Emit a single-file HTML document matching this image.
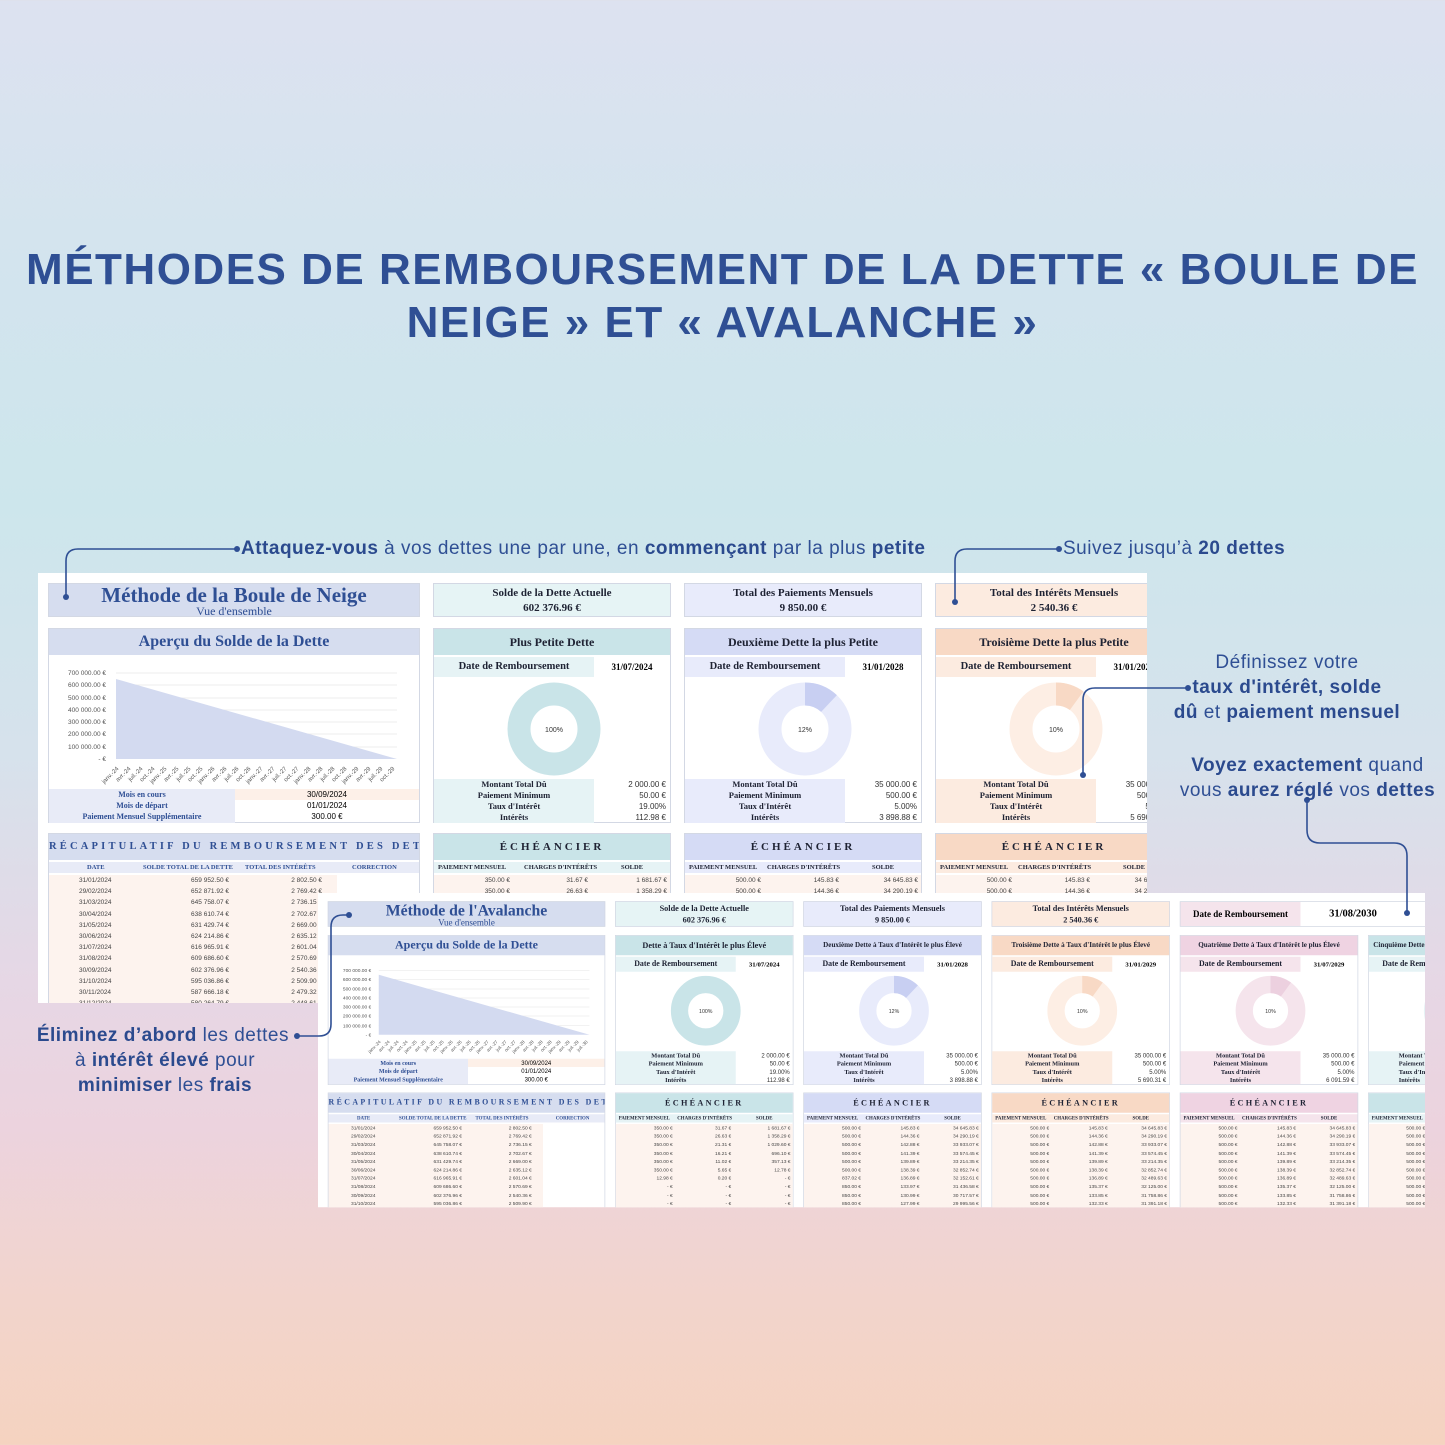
<!DOCTYPE html>
<html><head><meta charset="utf-8">
<style>
*{margin:0;padding:0;box-sizing:border-box}
body{width:1445px;height:1445px;position:relative;overflow:hidden;font-family:"Liberation Sans",sans-serif;
background:linear-gradient(180deg,#dde2f0 0%,#d3e4ee 18%,#cde6ec 35%,#d6e2ec 52%,#e6d7e5 68%,#ecd3de 78%,#f2d4cc 90%,#f5d3c0 100%)}
.abs{position:absolute}
.title{position:absolute;left:0;width:1445px;text-align:center;color:#2f4f94;font-weight:bold;font-size:44px;letter-spacing:1.5px;white-space:nowrap}
.ann{position:absolute;color:#2f4f94;font-size:19px;white-space:nowrap;letter-spacing:0.5px}
.ann b{color:#2b4a8e}
.sheet{position:absolute;background:#fff;overflow:hidden;font-family:"Liberation Serif",serif;transform-origin:0 0}
.bx{position:absolute;border:1px solid #d3d8e4}
.hd{position:absolute;left:0;top:0;right:0;height:26px;text-align:center;font-weight:bold;font-size:12px;line-height:26px;color:#1e2233;white-space:nowrap;overflow:hidden}
.st{text-align:center;font-weight:bold;font-size:11px;color:#1e2233;line-height:15px;padding-top:2px}
.dr{position:absolute;top:28px;left:0;width:160px;height:20px;font-size:10.5px;font-weight:bold;text-align:center;line-height:20px;color:#1e2233}
.dv{position:absolute;top:28px;left:160px;right:0;height:20px;font-size:9px;font-weight:bold;text-align:center;line-height:20px}
.dl{position:absolute;top:150px;left:0;width:160px;height:44px;font-size:8.5px;font-weight:bold;text-align:center;line-height:11px;color:#1e2233}
.dn{position:absolute;top:150px;left:160px;right:4px;height:44px;font-size:8px;text-align:right;line-height:11px;font-family:"Liberation Sans",sans-serif;color:#333}
.eh{position:absolute;left:0;right:0;top:0;height:26px;text-align:center;font-weight:bold;font-size:11px;letter-spacing:3px;line-height:26px;color:#1e2233}
.ch{position:absolute;left:0;right:0;top:28px;height:11px;font-size:6.5px;font-weight:bold;line-height:11px;color:#1e2233}
.ch span,.rw span{position:absolute}
.rows{position:absolute;left:0;right:0;top:41px;bottom:0;background:#fdf3ee}
.rw{position:relative;height:11.2px;font-size:6.5px;line-height:11.2px;font-family:"Liberation Sans",sans-serif;color:#444}
.rc .rw span:nth-child(2){right:108px}
.rc .rw span:nth-child(3){right:15px}
.rc .rw span:nth-child(1){left:30px}
.rh{background:#d6ddef;color:#2f4f94;letter-spacing:3.2px;font-size:10.5px;white-space:nowrap;overflow:hidden;text-align:left;padding-left:0}
</style></head><body>

<div class="title" style="top:245px">MÉTHODES DE REMBOURSEMENT DE LA DETTE « BOULE DE</div>
<div class="title" style="top:298px">NEIGE » ET « AVALANCHE »</div>

<!-- PANEL 1 -->
<div class="sheet" style="left:38px;top:573px;width:1109px;height:430px">
  <div class="bx" style="left:10px;top:10px;width:372px;height:34px;background:#d6ddef">
    <div style="position:absolute;left:0;right:0;top:-1px;text-align:center;font-size:21px;font-weight:bold;color:#2f4f94">Méthode de la Boule de Neige</div>
    <div style="position:absolute;left:0;right:0;top:20px;text-align:center;font-size:12px;color:#2f4f94">Vue d'ensemble</div>
  </div>
  <div class="bx st" style="left:395px;top:10px;width:238px;height:34px;background:#e6f4f5">Solde de la Dette Actuelle<br>602 376.96 €</div>
  <div class="bx st" style="left:646px;top:10px;width:238px;height:34px;background:#e8ebfb">Total des Paiements Mensuels<br>9 850.00 €</div>
  <div class="bx st" style="left:897px;top:10px;width:238px;height:34px;background:#fcebe0">Total des Intérêts Mensuels<br>2 540.36 €</div>

  <div class="bx" style="left:10px;top:55px;width:372px;height:195px">
    <div class="hd" style="background:#d6ddef;color:#2f4f94;font-size:16px">Aperçu du Solde de la Dette</div>
    <svg class="abs" style="left:0;top:28px" width="372" height="132" font-family="Liberation Sans" font-size="6.5" fill="#555">
      <g stroke="#e6e6e6" stroke-width="0.8"><line x1="67" y1="16" x2="348" y2="16"/><line x1="67" y1="28" x2="348" y2="28"/><line x1="67" y1="41" x2="348" y2="41"/><line x1="67" y1="53" x2="348" y2="53"/><line x1="67" y1="65" x2="348" y2="65"/><line x1="67" y1="77" x2="348" y2="77"/><line x1="67" y1="90" x2="348" y2="90"/></g>
      <polygon points="67,22 348,102 67,102" fill="#d3daf0"/>
      <g text-anchor="end"><text x="57" y="18">700 000.00 €</text><text x="57" y="30">600 000.00 €</text><text x="57" y="43">500 000.00 €</text><text x="57" y="55">400 000.00 €</text><text x="57" y="67">300 000.00 €</text><text x="57" y="79">200 000.00 €</text><text x="57" y="92">100 000.00 €</text><text x="57" y="104">-  €</text></g>
      <g font-size="6"><text transform="translate(70,112) rotate(-45)" text-anchor="end">janv.-24</text><text transform="translate(82,112) rotate(-45)" text-anchor="end">avr.-24</text><text transform="translate(94,112) rotate(-45)" text-anchor="end">juil.-24</text><text transform="translate(106,112) rotate(-45)" text-anchor="end">oct.-24</text><text transform="translate(118,112) rotate(-45)" text-anchor="end">janv.-25</text><text transform="translate(130,112) rotate(-45)" text-anchor="end">avr.-25</text><text transform="translate(142,112) rotate(-45)" text-anchor="end">juil.-25</text><text transform="translate(154,112) rotate(-45)" text-anchor="end">oct.-25</text><text transform="translate(166,112) rotate(-45)" text-anchor="end">janv.-26</text><text transform="translate(178,112) rotate(-45)" text-anchor="end">avr.-26</text><text transform="translate(190,112) rotate(-45)" text-anchor="end">juil.-26</text><text transform="translate(202,112) rotate(-45)" text-anchor="end">oct.-26</text><text transform="translate(214,112) rotate(-45)" text-anchor="end">janv.-27</text><text transform="translate(226,112) rotate(-45)" text-anchor="end">avr.-27</text><text transform="translate(238,112) rotate(-45)" text-anchor="end">juil.-27</text><text transform="translate(250,112) rotate(-45)" text-anchor="end">oct.-27</text><text transform="translate(262,112) rotate(-45)" text-anchor="end">janv.-28</text><text transform="translate(274,112) rotate(-45)" text-anchor="end">avr.-28</text><text transform="translate(286,112) rotate(-45)" text-anchor="end">juil.-28</text><text transform="translate(298,112) rotate(-45)" text-anchor="end">oct.-28</text><text transform="translate(310,112) rotate(-45)" text-anchor="end">janv.-29</text><text transform="translate(322,112) rotate(-45)" text-anchor="end">avr.-29</text><text transform="translate(334,112) rotate(-45)" text-anchor="end">juil.-29</text><text transform="translate(346,112) rotate(-45)" text-anchor="end">oct.-29</text></g>
    </svg>
    <div class="abs" style="left:0;top:160px;width:186px;height:34px;background:#e8ebf7;font-size:8px;font-weight:bold;color:#2f4f94;text-align:center;line-height:11px">Mois en cours<br>Mois de départ<br>Paiement Mensuel Supplémentaire</div>
    <div class="abs" style="left:186px;top:160px;right:0;height:11px;background:#fdf0e8"></div>
    <div class="abs" style="left:186px;top:160px;right:0;height:34px;font-size:8px;text-align:center;line-height:11px;font-family:'Liberation Sans',sans-serif">30/09/2024<br>01/01/2024<br>300.00 €</div>
  </div>

  <div class="bx" style="left:395px;top:55px;width:238px;height:195px">
    <div class="hd" style="background:#c9e4e8">Plus Petite Dette</div>
    <div class="dr" style="background:#e6f3f5">Date de Remboursement</div><div class="dv">31/07/2024</div>
    <svg class="abs" style="left:0;top:0" width="238" height="150"><circle cx="120" cy="100" r="35" fill="none" stroke="#c9e4e8" stroke-width="23"/><text x="120" y="103" font-size="7" text-anchor="middle" font-family="Liberation Sans" fill="#333">100%</text></svg>
    <div class="dl" style="background:#e6f3f5">Montant Total Dû<br>Paiement Minimum<br>Taux d'Intérêt<br>Intérêts</div><div class="dn">2 000.00 €<br>50.00 €<br>19.00%<br>112.98 €</div>
  </div>
  <div class="bx" style="left:646px;top:55px;width:238px;height:195px">
    <div class="hd" style="background:#d5dbf5">Deuxième Dette la plus Petite</div>
    <div class="dr" style="background:#e8ebfb">Date de Remboursement</div><div class="dv">31/01/2028</div>
    <svg class="abs" style="left:0;top:0" width="238" height="150"><circle cx="120" cy="100" r="35" fill="none" stroke="#e8ebfb" stroke-width="23"/><circle cx="120" cy="100" r="35" fill="none" stroke="#c8cff2" stroke-width="23" stroke-dasharray="26.4 300" transform="rotate(-90 120 100)"/><text x="120" y="103" font-size="7" text-anchor="middle" font-family="Liberation Sans" fill="#333">12%</text></svg>
    <div class="dl" style="background:#e8ebfb">Montant Total Dû<br>Paiement Minimum<br>Taux d'Intérêt<br>Intérêts</div><div class="dn">35 000.00 €<br>500.00 €<br>5.00%<br>3 898.88 €</div>
  </div>
  <div class="bx" style="left:897px;top:55px;width:238px;height:195px">
    <div class="hd" style="background:#f8d9c5">Troisième Dette la plus Petite</div>
    <div class="dr" style="background:#fcebe0">Date de Remboursement</div><div class="dv">31/01/2029</div>
    <svg class="abs" style="left:0;top:0" width="238" height="150"><circle cx="120" cy="100" r="35" fill="none" stroke="#fdeee4" stroke-width="23"/><circle cx="120" cy="100" r="35" fill="none" stroke="#f8d9c5" stroke-width="23" stroke-dasharray="22 300" transform="rotate(-90 120 100)"/><text x="120" y="103" font-size="7" text-anchor="middle" font-family="Liberation Sans" fill="#333">10%</text></svg>
    <div class="dl" style="background:#fcebe0">Montant Total Dû<br>Paiement Minimum<br>Taux d'Intérêt<br>Intérêts</div><div class="dn">35 000.00 €<br>500.00 €<br>5.00%<br>5 690.31 €</div>
  </div>

  <div class="bx rc" style="left:10px;top:260px;width:372px;height:180px">
    <div class="eh rh">RÉCAPITULATIF DU REMBOURSEMENT DES DETTES</div>
    <div class="ch" style="background:#e8ebf7;color:#2f4f94"><span style="left:38px">DATE</span><span style="left:94px">SOLDE TOTAL DE LA DETTE</span><span style="left:196px">TOTAL DES INTÉRÊTS</span><span style="left:303px">CORRECTION</span></div>
    <div class="rows" style="right:82px">
      <div class="rw"><span>31/01/2024</span><span>659 952.50 €</span><span>2 802.50 €</span></div>
      <div class="rw"><span>29/02/2024</span><span>652 871.92 €</span><span>2 769.42 €</span></div>
      <div class="rw"><span>31/03/2024</span><span>645 758.07 €</span><span>2 736.15 €</span></div>
      <div class="rw"><span>30/04/2024</span><span>638 610.74 €</span><span>2 702.67 €</span></div>
      <div class="rw"><span>31/05/2024</span><span>631 429.74 €</span><span>2 669.00 €</span></div>
      <div class="rw"><span>30/06/2024</span><span>624 214.86 €</span><span>2 635.12 €</span></div>
      <div class="rw"><span>31/07/2024</span><span>616 965.91 €</span><span>2 601.04 €</span></div>
      <div class="rw"><span>31/08/2024</span><span>609 686.60 €</span><span>2 570.69 €</span></div>
      <div class="rw"><span>30/09/2024</span><span>602 376.96 €</span><span>2 540.36 €</span></div>
      <div class="rw"><span>31/10/2024</span><span>595 036.86 €</span><span>2 509.90 €</span></div>
      <div class="rw"><span>30/11/2024</span><span>587 666.18 €</span><span>2 479.32 €</span></div>
      <div class="rw"><span>31/12/2024</span><span>580 264.79 €</span><span>2 448.61 €</span></div>
    </div>
  </div>
  <div class="bx" style="left:395px;top:260px;width:238px;height:180px">
    <div class="eh" style="background:#c9e4e8">ÉCHÉANCIER</div>
    <div class="ch" style="background:#e6f3f5"><span style="left:4px">PAIEMENT MENSUEL</span><span style="left:90px">CHARGES D'INTÉRÊTS</span><span style="left:187px">SOLDE</span></div>
    <div class="rows"><div class="rw"><span style="right:160px">350.00 €</span><span style="right:82px">31.67 €</span><span style="right:3px">1 681.67 €</span></div><div class="rw"><span style="right:160px">350.00 €</span><span style="right:82px">26.63 €</span><span style="right:3px">1 358.29 €</span></div></div>
  </div>
  <div class="bx" style="left:646px;top:260px;width:238px;height:180px">
    <div class="eh" style="background:#d5dbf5">ÉCHÉANCIER</div>
    <div class="ch" style="background:#e8ebfb"><span style="left:4px">PAIEMENT MENSUEL</span><span style="left:82px">CHARGES D'INTÉRÊTS</span><span style="left:187px">SOLDE</span></div>
    <div class="rows"><div class="rw"><span style="right:160px">500.00 €</span><span style="right:82px">145.83 €</span><span style="right:3px">34 645.83 €</span></div><div class="rw"><span style="right:160px">500.00 €</span><span style="right:82px">144.36 €</span><span style="right:3px">34 290.19 €</span></div></div>
  </div>
  <div class="bx" style="left:897px;top:260px;width:238px;height:180px">
    <div class="eh" style="background:#f8d9c5">ÉCHÉANCIER</div>
    <div class="ch" style="background:#fcebe0"><span style="left:4px">PAIEMENT MENSUEL</span><span style="left:82px">CHARGES D'INTÉRÊTS</span><span style="left:187px">SOLDE</span></div>
    <div class="rows"><div class="rw"><span style="right:160px">500.00 €</span><span style="right:82px">145.83 €</span><span style="right:3px">34 645.83 €</span></div><div class="rw"><span style="right:160px">500.00 €</span><span style="right:82px">144.36 €</span><span style="right:3px">34 290.19 €</span></div></div>
  </div>
</div>

<!-- PANEL 2 (scaled 0.75) -->
<div class="sheet" style="left:318px;top:893px;width:1476px;height:419px;transform:scale(0.75)">
  <div class="bx" style="left:13px;top:11px;width:370px;height:34px;background:#d6ddef">
    <div style="position:absolute;left:0;right:0;top:-1px;text-align:center;font-size:21px;font-weight:bold;color:#2f4f94">Méthode de l'Avalanche</div>
    <div style="position:absolute;left:0;right:0;top:20px;text-align:center;font-size:12px;color:#2f4f94">Vue d'ensemble</div>
  </div>
  <div class="bx st" style="left:396px;top:11px;width:238px;height:34px;background:#e6f4f5">Solde de la Dette Actuelle<br>602 376.96 €</div>
  <div class="bx st" style="left:647px;top:11px;width:238px;height:34px;background:#e8ebfb">Total des Paiements Mensuels<br>9 850.00 €</div>
  <div class="bx st" style="left:898px;top:11px;width:238px;height:34px;background:#fcebe0">Total des Intérêts Mensuels<br>2 540.36 €</div>
  <div class="bx" style="left:1149px;top:11px;width:340px;height:34px;background:#fff">
    <div class="abs" style="left:0;top:0;width:160px;height:32px;background:#f5e4ec;font-weight:bold;font-size:12px;line-height:32px;text-align:center">Date de Remboursement</div>
    <div class="abs" style="left:160px;top:0;width:140px;height:32px;font-weight:bold;font-size:14px;line-height:32px;text-align:center">31/08/2030</div>
  </div>

  <div class="bx" style="left:13px;top:56px;width:370px;height:200px">
    <div class="hd" style="background:#d6ddef;color:#2f4f94;font-size:16px">Aperçu du Solde de la Dette</div>
    <svg class="abs" style="left:0;top:30px" width="370" height="132" font-family="Liberation Sans" font-size="6.5" fill="#555">
      <g stroke="#e6e6e6" stroke-width="0.8"><line x1="67" y1="16" x2="348" y2="16"/><line x1="67" y1="28" x2="348" y2="28"/><line x1="67" y1="41" x2="348" y2="41"/><line x1="67" y1="53" x2="348" y2="53"/><line x1="67" y1="65" x2="348" y2="65"/><line x1="67" y1="77" x2="348" y2="77"/><line x1="67" y1="90" x2="348" y2="90"/></g>
      <polygon points="67,22 348,102 67,102" fill="#d3daf0"/>
      <g text-anchor="end"><text x="57" y="18">700 000.00 €</text><text x="57" y="30">600 000.00 €</text><text x="57" y="43">500 000.00 €</text><text x="57" y="55">400 000.00 €</text><text x="57" y="67">300 000.00 €</text><text x="57" y="79">200 000.00 €</text><text x="57" y="92">100 000.00 €</text><text x="57" y="104">-  €</text></g>
      <g font-size="6"><text transform="translate(70,112) rotate(-45)" text-anchor="end">janv.-24</text><text transform="translate(82,112) rotate(-45)" text-anchor="end">avr.-24</text><text transform="translate(94,112) rotate(-45)" text-anchor="end">juil.-24</text><text transform="translate(106,112) rotate(-45)" text-anchor="end">oct.-24</text><text transform="translate(118,112) rotate(-45)" text-anchor="end">janv.-25</text><text transform="translate(130,112) rotate(-45)" text-anchor="end">avr.-25</text><text transform="translate(142,112) rotate(-45)" text-anchor="end">juil.-25</text><text transform="translate(154,112) rotate(-45)" text-anchor="end">oct.-25</text><text transform="translate(166,112) rotate(-45)" text-anchor="end">janv.-26</text><text transform="translate(178,112) rotate(-45)" text-anchor="end">avr.-26</text><text transform="translate(190,112) rotate(-45)" text-anchor="end">juil.-26</text><text transform="translate(202,112) rotate(-45)" text-anchor="end">oct.-26</text><text transform="translate(214,112) rotate(-45)" text-anchor="end">janv.-27</text><text transform="translate(226,112) rotate(-45)" text-anchor="end">avr.-27</text><text transform="translate(238,112) rotate(-45)" text-anchor="end">juil.-27</text><text transform="translate(250,112) rotate(-45)" text-anchor="end">oct.-27</text><text transform="translate(262,112) rotate(-45)" text-anchor="end">janv.-28</text><text transform="translate(274,112) rotate(-45)" text-anchor="end">avr.-28</text><text transform="translate(286,112) rotate(-45)" text-anchor="end">juil.-28</text><text transform="translate(298,112) rotate(-45)" text-anchor="end">oct.-28</text><text transform="translate(310,112) rotate(-45)" text-anchor="end">janv.-29</text><text transform="translate(322,112) rotate(-45)" text-anchor="end">avr.-29</text><text transform="translate(334,112) rotate(-45)" text-anchor="end">juil.-29</text><text transform="translate(346,112) rotate(-45)" text-anchor="end">juil.-30</text></g>
    </svg>
    <div class="abs" style="left:0;top:164px;width:186px;height:34px;background:#e8ebf7;font-size:8px;font-weight:bold;color:#2f4f94;text-align:center;line-height:11px">Mois en cours<br>Mois de départ<br>Paiement Mensuel Supplémentaire</div>
    <div class="abs" style="left:186px;top:164px;right:0;height:11px;background:#fdf0e8"></div>
    <div class="abs" style="left:186px;top:164px;right:0;height:34px;font-size:8px;text-align:center;line-height:11px;font-family:'Liberation Sans',sans-serif">30/09/2024<br>01/01/2024<br>300.00 €</div>
  </div>

  <div class="bx" style="left:396px;top:56px;width:238px;height:200px">
    <div class="hd" style="background:#c9e4e8;font-size:11px">Dette à Taux d'Intérêt le plus Élevé</div>
    <div class="dr" style="background:#e6f3f5">Date de Remboursement</div><div class="dv">31/07/2024</div>
    <svg class="abs" style="left:0;top:0" width="238" height="150"><circle cx="120" cy="100" r="35" fill="none" stroke="#c9e4e8" stroke-width="23"/><text x="120" y="103" font-size="7" text-anchor="middle" font-family="Liberation Sans" fill="#333">100%</text></svg>
    <div class="dl" style="top:154px;background:#e6f3f5">Montant Total Dû<br>Paiement Minimum<br>Taux d'Intérêt<br>Intérêts</div><div class="dn" style="top:154px">2 000.00 €<br>50.00 €<br>19.00%<br>112.98 €</div>
  </div>
  <div class="bx" style="left:647px;top:56px;width:238px;height:200px">
    <div class="hd" style="background:#d5dbf5;font-size:9.5px">Deuxième Dette à Taux d'Intérêt le plus Élevé</div>
    <div class="dr" style="background:#e8ebfb">Date de Remboursement</div><div class="dv">31/01/2028</div>
    <svg class="abs" style="left:0;top:0" width="238" height="150"><circle cx="120" cy="100" r="35" fill="none" stroke="#e8ebfb" stroke-width="23"/><circle cx="120" cy="100" r="35" fill="none" stroke="#c8cff2" stroke-width="23" stroke-dasharray="26.4 300" transform="rotate(-90 120 100)"/><text x="120" y="103" font-size="7" text-anchor="middle" font-family="Liberation Sans" fill="#333">12%</text></svg>
    <div class="dl" style="top:154px;background:#e8ebfb">Montant Total Dû<br>Paiement Minimum<br>Taux d'Intérêt<br>Intérêts</div><div class="dn" style="top:154px">35 000.00 €<br>500.00 €<br>5.00%<br>3 898.88 €</div>
  </div>
  <div class="bx" style="left:898px;top:56px;width:238px;height:200px">
    <div class="hd" style="background:#f8d9c5;font-size:9.5px">Troisième Dette à Taux d'Intérêt le plus Élevé</div>
    <div class="dr" style="background:#fcebe0">Date de Remboursement</div><div class="dv">31/01/2029</div>
    <svg class="abs" style="left:0;top:0" width="238" height="150"><circle cx="120" cy="100" r="35" fill="none" stroke="#fdeee4" stroke-width="23"/><circle cx="120" cy="100" r="35" fill="none" stroke="#f8d9c5" stroke-width="23" stroke-dasharray="22 300" transform="rotate(-90 120 100)"/><text x="120" y="103" font-size="7" text-anchor="middle" font-family="Liberation Sans" fill="#333">10%</text></svg>
    <div class="dl" style="top:154px;background:#fcebe0">Montant Total Dû<br>Paiement Minimum<br>Taux d'Intérêt<br>Intérêts</div><div class="dn" style="top:154px">35 000.00 €<br>500.00 €<br>5.00%<br>5 690.31 €</div>
  </div>
  <div class="bx" style="left:1149px;top:56px;width:238px;height:200px">
    <div class="hd" style="background:#efd3e2;font-size:9.5px">Quatrième Dette à Taux d'Intérêt le plus Élevé</div>
    <div class="dr" style="background:#f5e4ec">Date de Remboursement</div><div class="dv">31/07/2029</div>
    <svg class="abs" style="left:0;top:0" width="238" height="150"><circle cx="120" cy="100" r="35" fill="none" stroke="#f5e4ec" stroke-width="23"/><circle cx="120" cy="100" r="35" fill="none" stroke="#ecd0df" stroke-width="23" stroke-dasharray="22 300" transform="rotate(-90 120 100)"/><text x="120" y="103" font-size="7" text-anchor="middle" font-family="Liberation Sans" fill="#333">10%</text></svg>
    <div class="dl" style="top:154px;background:#f5e4ec">Montant Total Dû<br>Paiement Minimum<br>Taux d'Intérêt<br>Intérêts</div><div class="dn" style="top:154px">35 000.00 €<br>500.00 €<br>5.00%<br>6 091.59 €</div>
  </div>
  <div class="bx" style="left:1400px;top:56px;width:238px;height:200px">
    <div class="hd" style="background:#c9e4e8;font-size:9.5px;text-align:left;padding-left:6px">Cinquième Dette à Taux d'Intérêt le plus Élevé</div>
    <div class="dr" style="background:#e6f3f5;text-align:left;padding-left:18px">Date de Remboursement</div>
    <svg class="abs" style="left:0;top:0" width="238" height="150"><circle cx="120" cy="100" r="35" fill="none" stroke="#e6f3f5" stroke-width="23"/></svg>
    <div class="dl" style="top:154px;background:#e6f3f5;text-align:left;padding-left:40px">Montant Total Dû<br>Paiement Minimum<br>Taux d'Intérêt<br>Intérêts</div>
  </div>

  <div class="bx rc" style="left:13px;top:266px;width:370px;height:160px">
    <div class="eh rh" style="text-align:center">RÉCAPITULATIF DU REMBOURSEMENT DES DETTES</div>
    <div class="ch" style="background:#e8ebf7;color:#2f4f94"><span style="left:38px">DATE</span><span style="left:94px">SOLDE TOTAL DE LA DETTE</span><span style="left:196px">TOTAL DES INTÉRÊTS</span><span style="left:303px">CORRECTION</span></div>
    <div class="rows" style="right:82px">
      <div class="rw"><span>31/01/2024</span><span>659 952.50 €</span><span>2 802.50 €</span></div>
      <div class="rw"><span>29/02/2024</span><span>652 871.92 €</span><span>2 769.42 €</span></div>
      <div class="rw"><span>31/03/2024</span><span>645 758.07 €</span><span>2 736.15 €</span></div>
      <div class="rw"><span>30/04/2024</span><span>638 610.74 €</span><span>2 702.67 €</span></div>
      <div class="rw"><span>31/05/2024</span><span>631 429.74 €</span><span>2 669.00 €</span></div>
      <div class="rw"><span>30/06/2024</span><span>624 214.86 €</span><span>2 635.12 €</span></div>
      <div class="rw"><span>31/07/2024</span><span>616 965.91 €</span><span>2 601.04 €</span></div>
      <div class="rw"><span>31/08/2024</span><span>609 686.60 €</span><span>2 570.69 €</span></div>
      <div class="rw"><span>30/09/2024</span><span>602 376.96 €</span><span>2 540.36 €</span></div>
      <div class="rw"><span>31/10/2024</span><span>595 036.86 €</span><span>2 509.90 €</span></div>
    </div>
  </div>
  <div class="bx" style="left:396px;top:266px;width:238px;height:160px">
    <div class="eh" style="background:#c9e4e8">ÉCHÉANCIER</div>
    <div class="ch" style="background:#e6f3f5"><span style="left:4px">PAIEMENT MENSUEL</span><span style="left:82px">CHARGES D'INTÉRÊTS</span><span style="left:187px">SOLDE</span></div>
    <div class="rows">
      <div class="rw"><span style="right:160px">350.00 €</span><span style="right:82px">31.67 €</span><span style="right:3px">1 681.67 €</span></div>
      <div class="rw"><span style="right:160px">350.00 €</span><span style="right:82px">26.63 €</span><span style="right:3px">1 358.29 €</span></div>
      <div class="rw"><span style="right:160px">350.00 €</span><span style="right:82px">21.31 €</span><span style="right:3px">1 029.60 €</span></div>
      <div class="rw"><span style="right:160px">350.00 €</span><span style="right:82px">16.21 €</span><span style="right:3px">696.10 €</span></div>
      <div class="rw"><span style="right:160px">350.00 €</span><span style="right:82px">11.02 €</span><span style="right:3px">357.13 €</span></div>
      <div class="rw"><span style="right:160px">350.00 €</span><span style="right:82px">5.65 €</span><span style="right:3px">12.78 €</span></div>
      <div class="rw"><span style="right:160px">12.98 €</span><span style="right:82px">0.20 €</span><span style="right:3px">-  €</span></div>
      <div class="rw"><span style="right:160px">-  €</span><span style="right:82px">-  €</span><span style="right:3px">-  €</span></div>
      <div class="rw"><span style="right:160px">-  €</span><span style="right:82px">-  €</span><span style="right:3px">-  €</span></div>
      <div class="rw"><span style="right:160px">-  €</span><span style="right:82px">-  €</span><span style="right:3px">-  €</span></div>
    </div>
  </div>
  <div class="bx" style="left:647px;top:266px;width:238px;height:160px">
    <div class="eh" style="background:#d5dbf5">ÉCHÉANCIER</div>
    <div class="ch" style="background:#e8ebfb"><span style="left:4px">PAIEMENT MENSUEL</span><span style="left:82px">CHARGES D'INTÉRÊTS</span><span style="left:187px">SOLDE</span></div>
    <div class="rows">
      <div class="rw"><span style="right:160px">500.00 €</span><span style="right:82px">145.83 €</span><span style="right:3px">34 645.83 €</span></div>
      <div class="rw"><span style="right:160px">500.00 €</span><span style="right:82px">144.36 €</span><span style="right:3px">34 290.19 €</span></div>
      <div class="rw"><span style="right:160px">500.00 €</span><span style="right:82px">142.88 €</span><span style="right:3px">33 933.07 €</span></div>
      <div class="rw"><span style="right:160px">500.00 €</span><span style="right:82px">141.39 €</span><span style="right:3px">33 574.45 €</span></div>
      <div class="rw"><span style="right:160px">500.00 €</span><span style="right:82px">139.89 €</span><span style="right:3px">33 214.35 €</span></div>
      <div class="rw"><span style="right:160px">500.00 €</span><span style="right:82px">138.39 €</span><span style="right:3px">32 852.74 €</span></div>
      <div class="rw"><span style="right:160px">837.02 €</span><span style="right:82px">136.89 €</span><span style="right:3px">32 152.61 €</span></div>
      <div class="rw"><span style="right:160px">850.00 €</span><span style="right:82px">133.97 €</span><span style="right:3px">31 436.58 €</span></div>
      <div class="rw"><span style="right:160px">850.00 €</span><span style="right:82px">130.99 €</span><span style="right:3px">30 717.57 €</span></div>
      <div class="rw"><span style="right:160px">850.00 €</span><span style="right:82px">127.99 €</span><span style="right:3px">29 995.56 €</span></div>
    </div>
  </div>
  <div class="bx" style="left:898px;top:266px;width:238px;height:160px">
    <div class="eh" style="background:#f8d9c5">ÉCHÉANCIER</div>
    <div class="ch" style="background:#fcebe0"><span style="left:4px">PAIEMENT MENSUEL</span><span style="left:82px">CHARGES D'INTÉRÊTS</span><span style="left:187px">SOLDE</span></div>
    <div class="rows">
      <div class="rw"><span style="right:160px">500.00 €</span><span style="right:82px">145.83 €</span><span style="right:3px">34 645.83 €</span></div>
      <div class="rw"><span style="right:160px">500.00 €</span><span style="right:82px">144.36 €</span><span style="right:3px">34 290.19 €</span></div>
      <div class="rw"><span style="right:160px">500.00 €</span><span style="right:82px">142.88 €</span><span style="right:3px">33 933.07 €</span></div>
      <div class="rw"><span style="right:160px">500.00 €</span><span style="right:82px">141.39 €</span><span style="right:3px">33 574.45 €</span></div>
      <div class="rw"><span style="right:160px">500.00 €</span><span style="right:82px">139.89 €</span><span style="right:3px">33 214.35 €</span></div>
      <div class="rw"><span style="right:160px">500.00 €</span><span style="right:82px">138.39 €</span><span style="right:3px">32 852.74 €</span></div>
      <div class="rw"><span style="right:160px">500.00 €</span><span style="right:82px">136.89 €</span><span style="right:3px">32 489.63 €</span></div>
      <div class="rw"><span style="right:160px">500.00 €</span><span style="right:82px">135.37 €</span><span style="right:3px">32 125.00 €</span></div>
      <div class="rw"><span style="right:160px">500.00 €</span><span style="right:82px">133.85 €</span><span style="right:3px">31 758.86 €</span></div>
      <div class="rw"><span style="right:160px">500.00 €</span><span style="right:82px">132.33 €</span><span style="right:3px">31 391.18 €</span></div>
    </div>
  </div>
  <div class="bx" style="left:1149px;top:266px;width:238px;height:160px">
    <div class="eh" style="background:#efd3e2">ÉCHÉANCIER</div>
    <div class="ch" style="background:#f5e4ec"><span style="left:4px">PAIEMENT MENSUEL</span><span style="left:82px">CHARGES D'INTÉRÊTS</span><span style="left:187px">SOLDE</span></div>
    <div class="rows">
      <div class="rw"><span style="right:160px">500.00 €</span><span style="right:82px">145.83 €</span><span style="right:3px">34 645.83 €</span></div>
      <div class="rw"><span style="right:160px">500.00 €</span><span style="right:82px">144.36 €</span><span style="right:3px">34 290.19 €</span></div>
      <div class="rw"><span style="right:160px">500.00 €</span><span style="right:82px">142.88 €</span><span style="right:3px">33 933.07 €</span></div>
      <div class="rw"><span style="right:160px">500.00 €</span><span style="right:82px">141.39 €</span><span style="right:3px">33 574.45 €</span></div>
      <div class="rw"><span style="right:160px">500.00 €</span><span style="right:82px">139.89 €</span><span style="right:3px">33 214.35 €</span></div>
      <div class="rw"><span style="right:160px">500.00 €</span><span style="right:82px">138.39 €</span><span style="right:3px">32 852.74 €</span></div>
      <div class="rw"><span style="right:160px">500.00 €</span><span style="right:82px">136.89 €</span><span style="right:3px">32 489.63 €</span></div>
      <div class="rw"><span style="right:160px">500.00 €</span><span style="right:82px">135.37 €</span><span style="right:3px">32 125.00 €</span></div>
      <div class="rw"><span style="right:160px">500.00 €</span><span style="right:82px">133.85 €</span><span style="right:3px">31 758.86 €</span></div>
      <div class="rw"><span style="right:160px">500.00 €</span><span style="right:82px">132.33 €</span><span style="right:3px">31 391.18 €</span></div>
    </div>
  </div>
  <div class="bx" style="left:1400px;top:266px;width:238px;height:160px">
    <div class="eh" style="background:#c9e4e8"></div>
    <div class="ch" style="background:#e6f3f5"><span style="left:4px">PAIEMENT MENSUEL</span></div>
    <div class="rows">
      <div class="rw"><span style="left:50px">500.00 €</span></div><div class="rw"><span style="left:50px">500.00 €</span></div><div class="rw"><span style="left:50px">500.00 €</span></div><div class="rw"><span style="left:50px">500.00 €</span></div><div class="rw"><span style="left:50px">500.00 €</span></div><div class="rw"><span style="left:50px">500.00 €</span></div><div class="rw"><span style="left:50px">500.00 €</span></div><div class="rw"><span style="left:50px">500.00 €</span></div><div class="rw"><span style="left:50px">500.00 €</span></div><div class="rw"><span style="left:50px">500.00 €</span></div>
    </div>
  </div>
</div>

<svg class="abs" style="left:0;top:0" width="1445" height="1445" fill="none" stroke="#2f4f94" stroke-width="1.6">
  <path d="M237,549 H78 Q66,549 66,561 V597"/>
  <path d="M1059,549 H967 Q955,549 955,561 V602"/>
  <path d="M1188,688 H1095 Q1083,688 1083,700 V775"/>
  <path d="M1307,800 V830 Q1307,843 1320,843 H1394 Q1407,843 1407,856 V913"/>
  <path d="M297,1036 H319 Q331,1036 331,1024 V927 Q331,915 343,915 H349"/>
  <g fill="#2f4f94" stroke="none">
    <circle cx="237" cy="549" r="3"/><circle cx="66" cy="597" r="3"/>
    <circle cx="1059" cy="549" r="3"/><circle cx="955" cy="602" r="3"/>
    <circle cx="1188" cy="688" r="3"/><circle cx="1083" cy="775" r="3"/>
    <circle cx="1307" cy="800" r="3"/><circle cx="1407" cy="913" r="3"/>
    <circle cx="297" cy="1036" r="3"/><circle cx="349" cy="915" r="3"/>
  </g>
</svg>

<div class="ann" style="left:241px;top:538px"><b>Attaquez-vous</b> à vos dettes une par une, en <b>commençant</b> par la plus <b>petite</b></div>
<div class="ann" style="left:1063px;top:538px">Suivez jusqu’à <b>20 dettes</b></div>
<div class="ann" style="left:1130px;width:314px;text-align:center;top:650px;line-height:25px">Définissez votre<br><b>taux d'intérêt, solde</b><br><b>dû</b> et <b>paiement mensuel</b></div>
<div class="ann" style="left:1160px;width:295px;text-align:center;top:753px;line-height:25px"><b>Voyez exactement</b> quand<br>vous <b>aurez réglé</b> vos <b>dettes</b></div>
<div class="ann" style="left:0;width:289px;text-align:right;top:1023px;line-height:25px"><b>Éliminez d’abord</b> les dettes</div>
<div class="ann" style="left:0;width:330px;text-align:center;top:1048px;line-height:25px">à <b>intérêt élevé</b> pour<br><b>minimiser</b> les <b>frais</b></div>

</body></html>
